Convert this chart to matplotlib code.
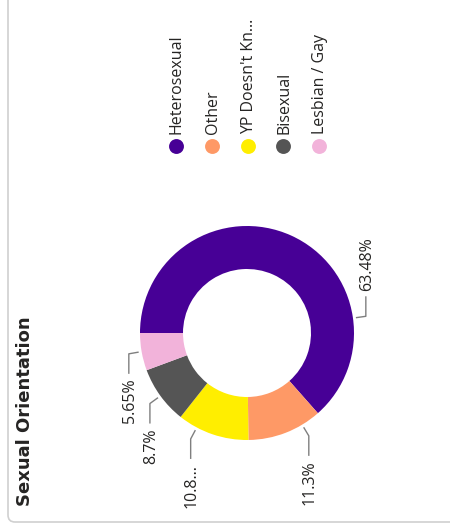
import numpy as np
import matplotlib
matplotlib.use("Agg")
import matplotlib.pyplot as plt
from matplotlib.patches import FancyBboxPatch

# data
categories = ["Heterosexual", "Other", "YP Doesn't Kn...", "Bisexual", "Lesbian / Gay"]
values = [63.48, 11.3, 10.87, 8.7, 5.65]
value_labels = ["63.48%", "11.3%", "10.8...", "8.7%", "5.65%"]
colors = ["#470096", "#FE9966", "#FFEE00", "#555555", "#F2B3DA"]

# layout (pixel coords, y down) - chart is drawn turned 90 deg
cx, cy = 247, 333
r_out = 107
ring = 43
label_angles = [8, -59, -118, -144, -170]   # where leader lines leave the ring
txt_font = ["Open Sans", "DejaVu Sans"]
txt_color = "#252423"

fig = plt.figure(figsize=(4.5, 5.29), dpi=100)
ax = fig.add_axes([0, 0, 1, 1])

ax.pie(values, colors=colors, radius=r_out, center=(cx, cy),
       startangle=180, counterclock=True,
       wedgeprops=dict(width=ring, linewidth=0))

ax.set_xlim(0, 450)
ax.set_ylim(529, 0)
ax.set_aspect("equal")
ax.axis("off")

# leader lines + value labels
for ang, lab in zip(label_angles, value_labels):
    a = np.radians(ang)
    ux, uy = np.cos(a), -np.sin(a)
    x0, y0 = cx + 110 * ux, cy + 110 * uy
    x1, y1 = cx + 120 * ux, cy + 120 * uy
    d = -1 if ang > 0 else 1
    y2 = y1 + d * 20
    ax.plot([x0, x1, x1], [y0, y1, y2], color="#7f7f7f", lw=1, solid_capstyle="butt")
    ax.text(x1 + 1, y2 + d * 5, lab, rotation=90, ha="center",
            va="top" if d > 0 else "bottom", fontsize=11.5,
            color=txt_color, family=txt_font)

# legend
for i, (cat, col) in enumerate(zip(categories, colors)):
    lx = 176 + 35.8 * i
    ax.scatter([lx], [146], s=115, color=col, linewidths=0, zorder=3)
    ax.text(lx + 1, 134, cat, rotation=90, ha="center", va="bottom",
            fontsize=11.5, color=txt_color, family=txt_font)

# title
ax.text(25, 506, "Sexual Orientation", rotation=90, ha="center", va="bottom",
        fontsize=13, fontweight="bold", color=txt_color,
        family=["Liberation Sans Narrow", "DejaVu Sans"])

# card border
card = FancyBboxPatch((8, -30), 470, 552, boxstyle="round,pad=0,rounding_size=7",
                      facecolor="none", edgecolor="#d0d0d0", lw=1.2)
ax.add_patch(card)

fig.savefig("out.png", dpi=100)
